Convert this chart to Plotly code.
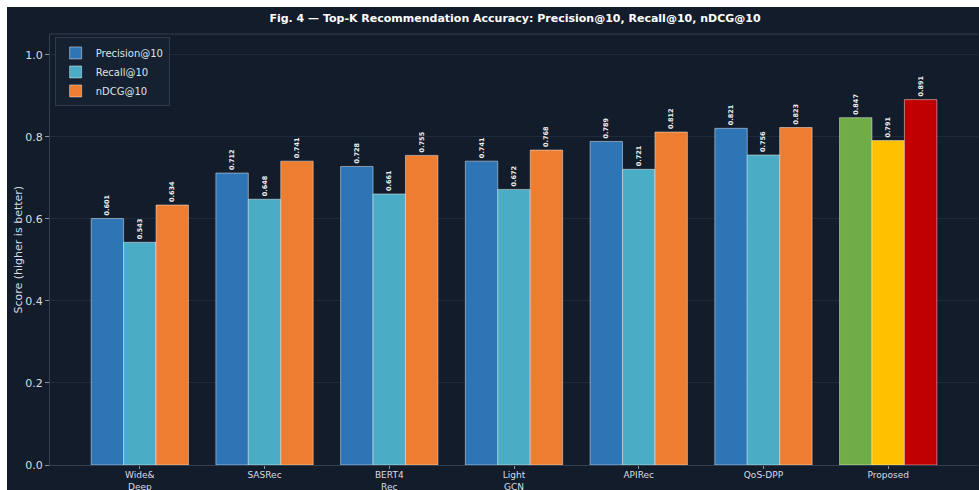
import plotly.graph_objects as go

categories = ["Wide&<br>Deep", "SASRec", "BERT4<br>Rec", "Light<br>GCN", "APIRec", "QoS-DPP", "Proposed"]
precision = [0.601, 0.712, 0.728, 0.741, 0.789, 0.821, 0.847]
recall = [0.543, 0.648, 0.661, 0.672, 0.721, 0.756, 0.791]
ndcg = [0.634, 0.741, 0.755, 0.768, 0.812, 0.823, 0.891]
series_names = ["Precision@10", "Recall@10", "nDCG@10"]
base_colors = ["#2E75B6", "#4BACC6", "#ED7D31"]
proposed_colors = ["#70AD47", "#FFC000", "#C00000"]
y_ticks = [0.0, 0.2, 0.4, 0.6, 0.8, 1.0]

W, H = 979, 490
ML, MR, MT, MB = 50, 1, 34, 25
PW, PH = W - ML - MR, H - MT - MB

fig = go.Figure()
for name, vals, c, pc in zip(series_names, [precision, recall, ndcg], base_colors, proposed_colors):
    colors = [c] * (len(categories) - 1) + [pc]
    fig.add_trace(go.Bar(
        name=name, x=categories, y=vals,
        marker=dict(color=colors, line=dict(color="rgba(255,255,255,0.45)", width=1)),
        text=[f"<b>{v:.3f}</b>" for v in vals], textposition="outside", textangle=-90,
        textfont=dict(size=6.5, color="#f0f0f0", family="DejaVu Sans"),
        constraintext="none", cliponaxis=False,
    ))

def px_x(p):
    return (p - ML) / PW

def px_y(p):
    return (H - MB - p) / PH

fig.update_layout(
    width=W, height=H,
    margin=dict(l=ML, r=MR, t=MT, b=MB, autoexpand=False),
    paper_bgcolor="#121c2b", plot_bgcolor="#121c2b",
    barmode="group", bargap=0.22, bargroupgap=0,
    font=dict(family="DejaVu Sans", color="#d8dde4", size=10),
    title=dict(text="<b>Fig. 4 — Top-K Recommendation Accuracy: Precision@10, Recall@10, nDCG@10</b>",
               x=515 / W, y=1 - 18 / H, xanchor="center", yanchor="middle",
               font=dict(size=11, color="#ffffff", family="DejaVu Sans")),
    legend=dict(x=0.005, y=0.992, xanchor="left", yanchor="top",
                bgcolor="#152031", bordercolor="#2c3a4c", borderwidth=1,
                font=dict(size=10, color="#dfe3e8"), tracegroupgap=0, itemwidth=30),
    xaxis=dict(range=[-0.72, 6.72], showgrid=False, showline=True, linecolor="#33414f",
               ticks="outside", ticklen=3, tickcolor="#8a939e", tickfont=dict(size=9, color="#d8dde4"),
               ticklabelstandoff=-2,
               mirror=False, zeroline=False, automargin=False),
    yaxis=dict(range=[0, 1.051], tickvals=y_ticks, tickformat=".1f", showgrid=True,
               gridcolor="#1f2a3a", gridwidth=1, showline=True, linecolor="#33414f",
               ticks="outside", ticklen=4, tickcolor="#8a939e", tickfont=dict(size=11, color="#d8dde4"),
               zeroline=False, automargin=False),
    showlegend=True,
)
fig.add_annotation(text="Score (higher is better)", xref="paper", yref="paper",
                   x=px_x(18), y=0.5, xanchor="center", yanchor="middle", textangle=-90,
                   showarrow=False, font=dict(size=11, color="#d8dde4"))
# top spine
fig.add_shape(type="line", xref="paper", yref="paper", x0=0, x1=1, y0=1, y1=1,
              line=dict(color="#33414f", width=1))
# white page border visible in the reference crop
fig.add_shape(type="rect", xref="paper", yref="paper", x0=px_x(0), x1=px_x(7), y0=px_y(H), y1=px_y(0),
              fillcolor="white", line=dict(width=0), layer="above")
fig.add_shape(type="rect", xref="paper", yref="paper", x0=px_x(0), x1=px_x(W), y0=px_y(7), y1=px_y(0),
              fillcolor="white", line=dict(width=0), layer="above")

fig.write_html("out.html")
